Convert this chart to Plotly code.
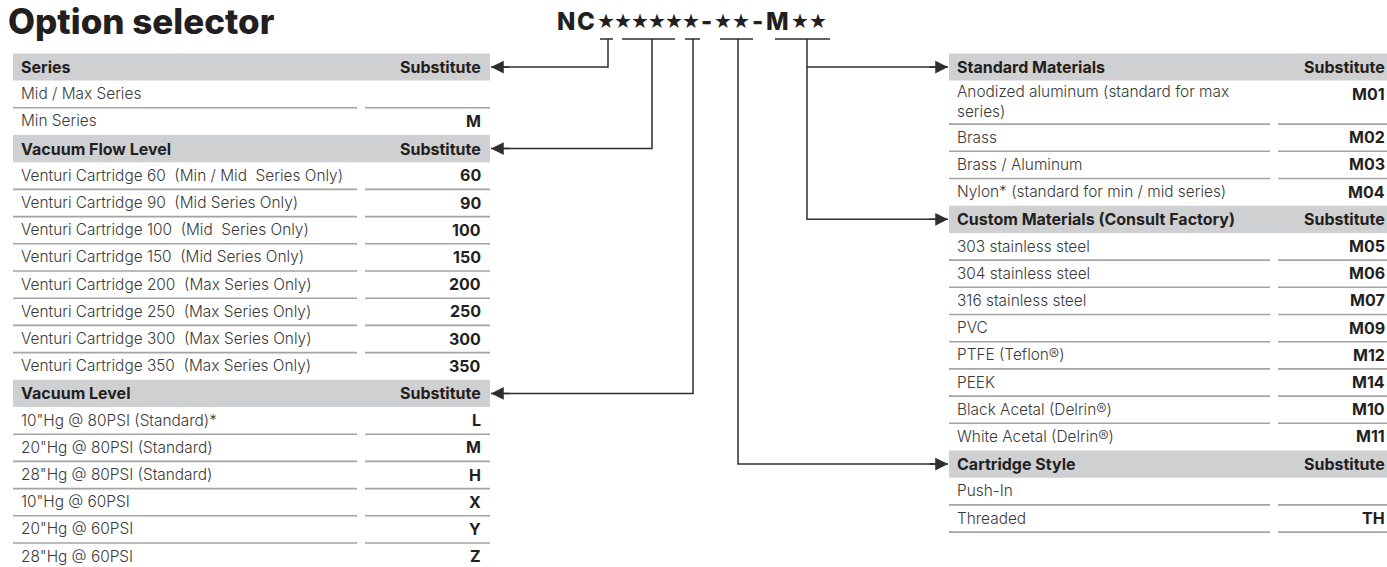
import plotly.graph_objects as go

W, H = 1387, 567

# ---------------- data ----------------
title_text = "Option selector"
code_chars = list("NC★★★★★★-★★-M★★")

series_labels = ["Mid / Max Series", "Min Series"]
series_codes = ["", "M"]
flow_labels = [
    "Venturi Cartridge 60  (Min / Mid  Series Only)",
    "Venturi Cartridge 90  (Mid Series Only)",
    "Venturi Cartridge 100  (Mid  Series Only)",
    "Venturi Cartridge 150  (Mid Series Only)",
    "Venturi Cartridge 200  (Max Series Only)",
    "Venturi Cartridge 250  (Max Series Only)",
    "Venturi Cartridge 300  (Max Series Only)",
    "Venturi Cartridge 350  (Max Series Only)",
]
flow_codes = ["60", "90", "100", "150", "200", "250", "300", "350"]
vac_labels = ['10"Hg @ 80PSI (Standard)*', '20"Hg @ 80PSI (Standard)', '28"Hg @ 80PSI (Standard)',
              '10"Hg @ 60PSI', '20"Hg @ 60PSI', '28"Hg @ 60PSI']
vac_codes = ["L", "M", "H", "X", "Y", "Z"]

std_labels = ["Anodized aluminum (standard for max\nseries)", "Brass", "Brass / Aluminum",
              "Nylon* (standard for min / mid series)"]
std_codes = ["M01", "M02", "M03", "M04"]
custom_labels = ["303 stainless steel", "304 stainless steel", "316 stainless steel", "PVC",
                 "PTFE (Teflon®)", "PEEK", "Black Acetal (Delrin®)", "White Acetal (Delrin®)"]
custom_codes = ["M05", "M06", "M07", "M09", "M12", "M14", "M10", "M11"]
style_labels = ["Push-In", "Threaded"]
style_codes = ["", "TH"]

left_sections = [("Series", series_labels, series_codes),
                 ("Vacuum Flow Level", flow_labels, flow_codes),
                 ("Vacuum Level", vac_labels, vac_codes)]
right_sections = [("Standard Materials", std_labels, std_codes),
                  ("Custom Materials (Consult Factory)", custom_labels, custom_codes),
                  ("Cartridge Style", style_labels, style_codes)]

# ---------------- styling / layout ----------------
FONT = "Inter, Lato, 'DejaVu Sans', sans-serif"
STAR_FONT = "'DejaVu Sans', sans-serif"
TXT = "#3a3a3a"
BOLD = "#231f20"
BAND = "#cfd0d1"
RULE = "#a3a3a3"
LINK = "#2e2e2e"
ROW = 27.2
EXTRA_LINE = 16.3
FS = 15.4
HFS = 16

shapes, annotations = [], []


def text(x, y, s, anchor="left", bold=False, size=FS, color=None):
    annotations.append(dict(
        x=x, y=y, xref="x", yref="y", text=s, showarrow=False,
        xanchor=anchor, yanchor="middle", borderpad=0, borderwidth=0, align="left",
        font=dict(family=FONT, size=size, color=color or (BOLD if bold else TXT),
                  weight=700 if bold else 300)))


def build_table(sections, x0, x1, c1, c2, y0, rpad):
    header_centers = []
    y = y0
    for si, (head, labels, codes) in enumerate(sections):
        shapes.append(dict(type="rect", xref="x", yref="y", x0=x0, x1=x1, y0=y, y1=y + ROW,
                           fillcolor=BAND, line=dict(width=0), layer="below"))
        header_centers.append(y + ROW / 2)
        text(x0 + 8, y + ROW / 2, head, bold=True, size=HFS)
        text(x1 - rpad, y + ROW / 2, "Substitute", anchor="right", bold=True, size=HFS)
        y += ROW
        for ri, (lab, code) in enumerate(zip(labels, codes)):
            lines = lab.split("\n")
            h = ROW + EXTRA_LINE * (len(lines) - 1)
            text(x0 + 8, y + h / 2 - 0.5, "<br>".join(lines))
            if code:
                text(x1 - rpad, y + ROW / 2 - 0.5, code, anchor="right", bold=True, size=HFS)
            y += h
            last_in_section = ri == len(labels) - 1
            last_section = si == len(sections) - 1
            if not last_in_section or last_section:
                for a, b in ((x0, c1), (c2, x1)):
                    shapes.append(dict(type="line", xref="x", yref="y", x0=a, x1=b, y0=y, y1=y,
                                       line=dict(color=RULE, width=1.6)))
    return header_centers


left_h = build_table(left_sections, 13, 490, 357, 365, 53.4, 9)
right_h = build_table(right_sections, 949, 1394, 1270, 1278, 53.4, 9)

# title
annotations.append(dict(x=8, y=0.3, xref="x", yref="y", text=title_text, showarrow=False,
                        xanchor="left", yanchor="top", borderpad=0, borderwidth=0,
                        font=dict(family=FONT, size=35, color=BOLD, weight=800)))

# part number characters
char_x = [566, 586, 606, 623, 640, 657, 674, 691, 706, 723, 741, 757, 777, 800, 818]
for ch, cx in zip(code_chars, char_x):
    star = ch == "★"
    annotations.append(dict(x=cx, y=21, xref="x", yref="y", text=ch, showarrow=False,
                            xanchor="center", yanchor="middle", borderpad=0, borderwidth=0,
                            font=dict(family=STAR_FONT if star else FONT,
                                      size=20 if star else 24, color=BOLD,
                                      weight=400 if star else 800)))

# underline segments (x-start, x-end, drop x)
UL_Y = 39
segments = [(600, 613, 608), (622, 675, 652), (685, 700, 693), (720, 753, 738), (775, 830, 807)]
L_TIP, R_TIP = 491, 948

paths = [
    [(segments[0][2], UL_Y), (segments[0][2], left_h[0]), (L_TIP, left_h[0])],
    [(segments[1][2], UL_Y), (segments[1][2], left_h[1]), (L_TIP, left_h[1])],
    [(segments[2][2], UL_Y), (segments[2][2], left_h[2]), (L_TIP, left_h[2])],
    [(segments[3][2], UL_Y), (segments[3][2], right_h[2]), (R_TIP, right_h[2])],
    [(segments[4][2], UL_Y), (segments[4][2], right_h[1]), (R_TIP, right_h[1])],
    [(segments[4][2], right_h[0]), (R_TIP, right_h[0])],
]

fig = go.Figure()
for a, b, _ in segments:
    fig.add_trace(go.Scatter(x=[a, b], y=[UL_Y, UL_Y], mode="lines",
                             line=dict(color=LINK, width=1.5), hoverinfo="skip", showlegend=False))
for p in paths:
    fig.add_trace(go.Scatter(x=[q[0] for q in p], y=[q[1] for q in p], mode="lines",
                             line=dict(color=LINK, width=1.5), hoverinfo="skip", showlegend=False))
    (tx, ty), (px, py) = p[-1], p[-2]
    annotations.append(dict(x=tx, y=ty, ax=tx + (20 if px > tx else -20), ay=ty,
                            xref="x", yref="y", axref="x", ayref="y", text="",
                            showarrow=True, arrowhead=2, arrowsize=1.7, arrowwidth=1.5,
                            arrowcolor=LINK, standoff=0))

fig.update_layout(
    width=W, height=H, margin=dict(l=0, r=0, t=0, b=0),
    paper_bgcolor="white", plot_bgcolor="white",
    xaxis=dict(range=[0, W], visible=False, fixedrange=True),
    yaxis=dict(range=[H, 0], visible=False, fixedrange=True),
    shapes=shapes, annotations=annotations, showlegend=False,
)
fig.write_html("out.html", config={"displayModeBar": False},
               post_script="document.body.style.margin='0';document.body.style.padding='0';")
